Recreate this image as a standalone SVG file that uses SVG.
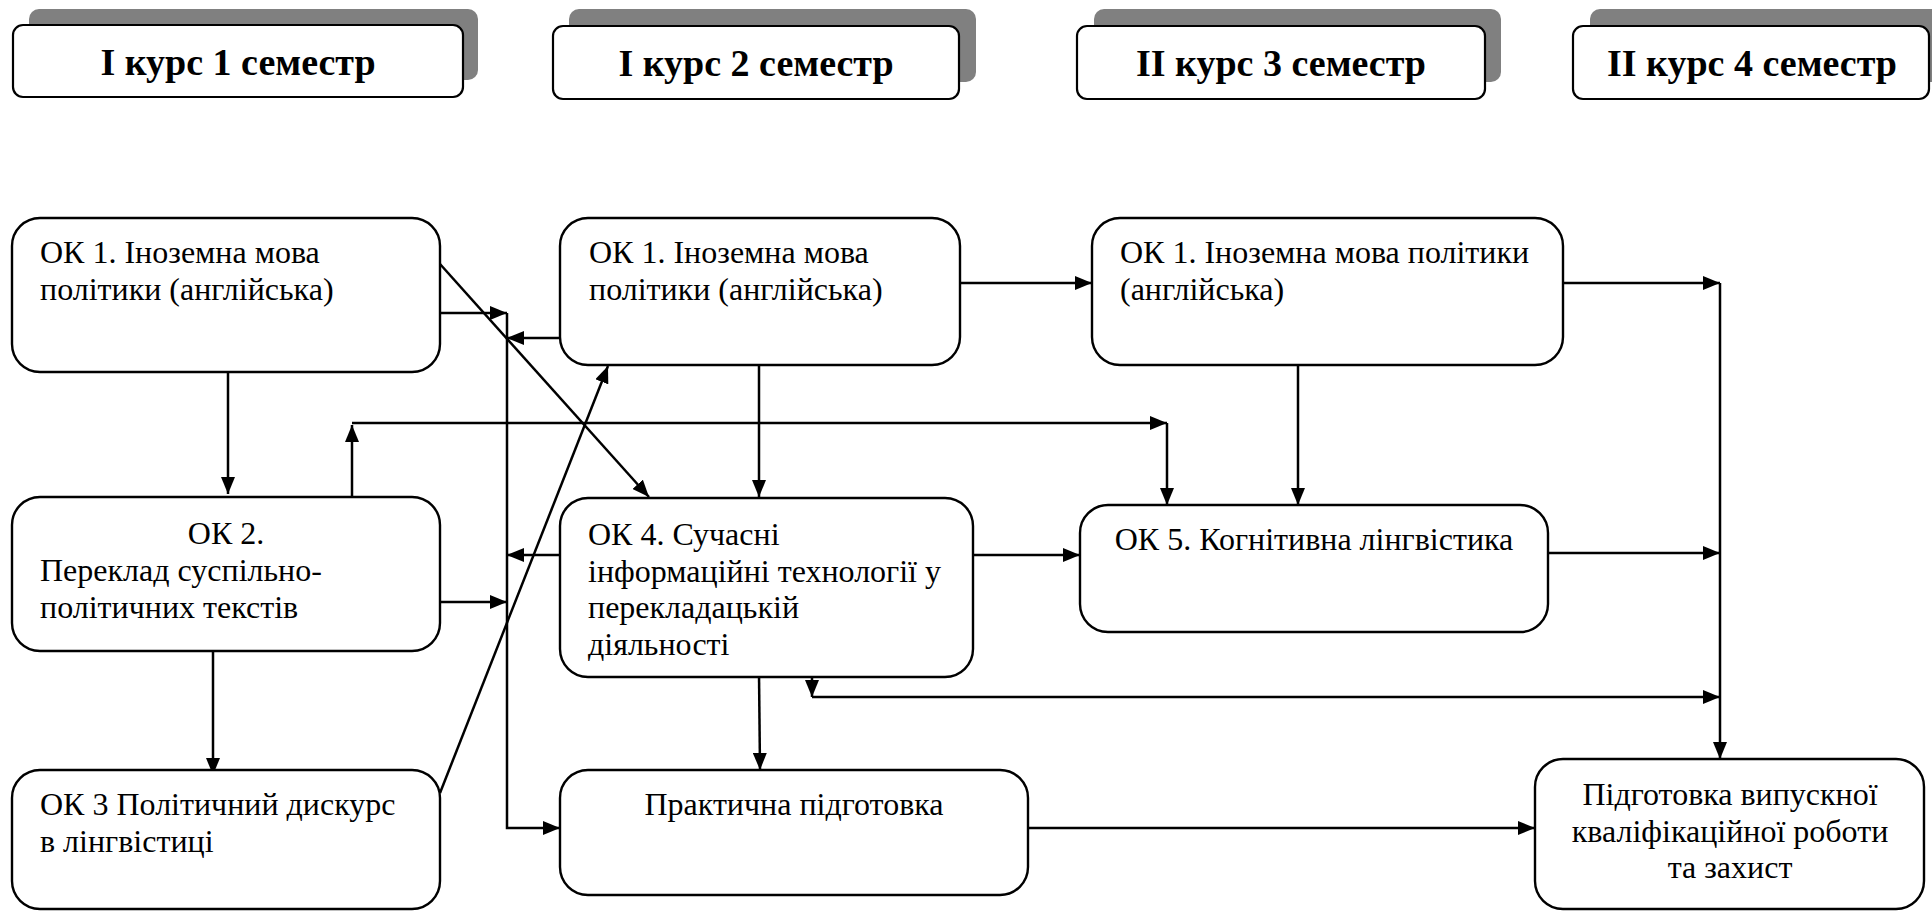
<svg xmlns="http://www.w3.org/2000/svg" width="1932" height="911" viewBox="0 0 1932 911">
<style>
.bg{fill:#ffffff}
.sh{fill:#808080;stroke:none}
.hb{fill:#ffffff;stroke:#000;stroke-width:2.2}
.nb{fill:#ffffff;stroke:#000;stroke-width:2.4}
.ht{font-family:"Liberation Serif","Times New Roman",serif;font-weight:bold;font-size:38px;fill:#000;text-anchor:middle}
.t{font-family:"Liberation Serif","Times New Roman",serif;font-size:32px;fill:#000}
.c{text-anchor:middle}
.ln{fill:none;stroke:#000;stroke-width:2.5}
.ar{fill:none;stroke:#000;stroke-width:2.5;marker-end:url(#ah)}
</style>
<defs>
<marker id="ah" viewBox="0 0 17 14" refX="17" refY="7" markerWidth="17" markerHeight="14" markerUnits="userSpaceOnUse" orient="auto">
<path d="M0,0 L17,7 L0,14 z" fill="#000"/>
</marker>
</defs>
<rect class="bg" x="0" y="0" width="1932" height="911"/>

<g id="hdr1">
<rect class="sh" x="29" y="9" width="449" height="71" rx="10"/>
<rect class="hb" x="13" y="25" width="450" height="72" rx="10"/>
<text class="ht" x="238" y="75">I курс 1 семестр</text>
</g>
<g id="hdr2">
<rect class="sh" x="569" y="9" width="407" height="73" rx="10"/>
<rect class="hb" x="553" y="26" width="406" height="73" rx="10"/>
<text class="ht" x="756" y="76">I курс 2 семестр</text>
</g>
<g id="hdr3">
<rect class="sh" x="1094" y="9" width="407" height="73" rx="10"/>
<rect class="hb" x="1077" y="26" width="408" height="73" rx="10"/>
<text class="ht" x="1281" y="76">II курс 3 семестр</text>
</g>
<g id="hdr4">
<rect class="sh" x="1590" y="9" width="360" height="73" rx="10"/>
<rect class="hb" x="1573" y="26" width="356" height="73" rx="10"/>
<text class="ht" x="1752" y="76">II курс 4 семестр</text>
</g>

<g id="connectors">
<path class="ar" d="M440,313 H507"/>
<path class="ar" d="M507,313 V828 H560"/>
<path class="ar" d="M560,338 H507"/>
<path class="ar" d="M560,555 H507"/>
<path class="ar" d="M440,602 H507"/>
<path class="ar" d="M440,264 L649,497"/>
<path class="ar" d="M440,793 L608,366"/>
<path class="ar" d="M228,372 V494"/>
<path class="ar" d="M352,497 V425"/>
<path class="ar" d="M352,423 H1167"/>
<path class="ar" d="M1167,423 V505"/>
<path class="ar" d="M960,283 H1092"/>
<path class="ar" d="M759,365 V497"/>
<path class="ar" d="M1298,364 V505"/>
<path class="ar" d="M1563,283 H1720"/>
<path class="ar" d="M1720,283 V759"/>
<path class="ar" d="M973,555 H1080"/>
<path class="ar" d="M1548,553 H1720"/>
<path class="ar" d="M812,674 V697"/>
<path class="ar" d="M812,697 H1720"/>
<path class="ar" d="M759,673 L760,770"/>
<path class="ar" d="M1028,828 H1535"/>
<path class="ar" d="M213,651 V775"/>
</g>

<g id="nA">
<rect class="nb" x="12" y="218" width="428" height="154" rx="28"/>
<text class="t" x="40" y="263">ОК 1. Іноземна мова</text>
<text class="t" x="40" y="300">політики (англійська)</text>
</g>
<g id="nB">
<rect class="nb" x="12" y="497" width="428" height="154" rx="28"/>
<text class="t c" x="226" y="544">ОК 2.</text>
<text class="t" x="40" y="581">Переклад суспільно-</text>
<text class="t" x="40" y="618">політичних текстів</text>
</g>
<g id="nC">
<rect class="nb" x="12" y="770" width="428" height="139" rx="28"/>
<text class="t" x="40" y="815">ОК 3 Політичний дискурс</text>
<text class="t" x="40" y="852">в лінгвістиці</text>
</g>
<g id="nD">
<rect class="nb" x="560" y="218" width="400" height="147" rx="28"/>
<text class="t" x="589" y="263">ОК 1. Іноземна мова</text>
<text class="t" x="589" y="300">політики (англійська)</text>
</g>
<g id="nE">
<rect class="nb" x="560" y="498" width="413" height="179" rx="28"/>
<text class="t" x="588" y="545">ОК 4. Сучасні</text>
<text class="t" x="588" y="582">інформаційні технології у</text>
<text class="t" x="588" y="618">перекладацькій</text>
<text class="t" x="588" y="655">діяльності</text>
</g>
<g id="nF">
<rect class="nb" x="560" y="770" width="468" height="125" rx="28"/>
<text class="t c" x="794" y="815">Практична підготовка</text>
</g>
<g id="nG">
<rect class="nb" x="1092" y="218" width="471" height="147" rx="28"/>
<text class="t" x="1120" y="263">ОК 1. Іноземна мова політики</text>
<text class="t" x="1120" y="300">(англійська)</text>
</g>
<g id="nH">
<rect class="nb" x="1080" y="505" width="468" height="127" rx="28"/>
<text class="t c" x="1314" y="550">ОК 5. Когнітивна лінгвістика</text>
</g>
<g id="nI">
<rect class="nb" x="1535" y="759" width="389" height="150" rx="28"/>
<text class="t c" x="1730" y="805">Підготовка випускної</text>
<text class="t c" x="1730" y="842">кваліфікаційної роботи</text>
<text class="t c" x="1730" y="878">та захист</text>
</g>
</svg>
